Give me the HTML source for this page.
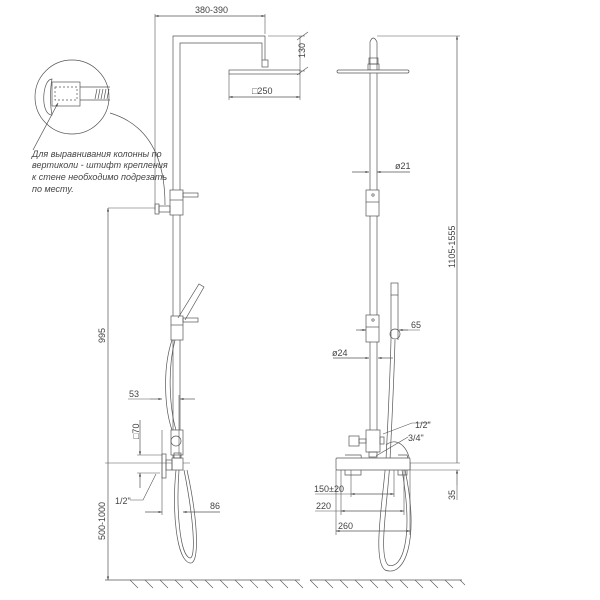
<!DOCTYPE html>
<html><head><meta charset="utf-8"><style>html,body{margin:0;padding:0;background:#fff}svg{display:block}text{font-family:"Liberation Sans","DejaVu Sans",sans-serif;font-size:9px;fill:#444}</style></head><body>
<svg width="600" height="600" viewBox="0 0 600 600" xmlns="http://www.w3.org/2000/svg">
<defs><marker id="a" viewBox="0 0 10 10" refX="10" refY="5" markerWidth="7" markerHeight="5" orient="auto-start-reverse"><path d="M0,2L10,5L0,8z" fill="#444"/></marker></defs>
<g stroke="#555" stroke-width="0.7" fill="none">
<path d="M173,460V36H265V60M180,460V43H262V60"/>
<rect x="262" y="60" width="6" height="7" fill="#fff"/>
<rect x="229" y="70" width="71" height="4" fill="#fff"/>
<path d="M155,14V210M265,14V34" stroke-width="0.6"/>
<line x1="155" y1="16" x2="265" y2="16" marker-start="url(#a)" marker-end="url(#a)"/>
<path d="M268,36H305M300,71H305M300,36V71M297,40L308,32M297,75L308,67" stroke-width="0.6"/>
<path d="M229,74V100M300,74V100" stroke-width="0.6"/>
<line x1="229" y1="97" x2="300" y2="97" marker-start="url(#a)" marker-end="url(#a)"/>
<circle cx="72" cy="97" r="37"/>
<path d="M52,79C42,79 40,115 52,115C50,105 50,89 52,79Z"/>
<rect x="52" y="82" width="28" height="24"/>
<rect x="55" y="87" width="22" height="13" stroke-dasharray="2,2"/>
<path d="M80,87H110M80,100H110M97,89L95,99M100,89L98,99M103,89L101,99M106,89L104,99M109,89L107,99"/>
<path d="M110,113C150,125 165,160 165,205"/>
<line x1="33" y1="150" x2="58" y2="103" marker-end="url(#a)"/>
<rect x="170" y="190" width="13" height="25" fill="#fff"/>
<path d="M170,200H183"/>
<rect x="183" y="193" width="15" height="4"/>
<rect x="155" y="204" width="4" height="10"/>
<rect x="159" y="206" width="11" height="6"/>
<path d="M108,208H155" stroke-width="0.6"/>
<line x1="108" y1="463" x2="108" y2="208" marker-end="url(#a)"/>
<line x1="108" y1="463" x2="108" y2="580" marker-end="url(#a)"/>
<path d="M105,463H190" stroke-width="0.6"/>
<rect x="171" y="316" width="12" height="24" fill="#fff"/>
<path d="M171,325H183"/>
<rect x="183" y="318" width="15" height="4"/>
<path d="M178,318L199,284L204,287L185,320"/>
<path d="M172,340C162,370 165,410 172,430M175,340C167,370 170,410 176,430"/>
<path d="M176,470C172,510 176,560 190,563C200,565 198,520 187,470M179,470C176,510 180,556 190,558C196,558 194,520 184,470"/>
<rect x="171" y="430" width="12" height="25" fill="#fff"/>
<circle cx="176" cy="441" r="5"/>
<rect x="172" y="458" width="11" height="12" fill="#fff"/>
<rect x="174" y="453" width="7" height="5"/>
<rect x="162" y="454" width="4" height="24"/>
<rect x="166" y="460" width="6" height="10"/>
<path d="M162,430V515M179,395V455" stroke-width="0.6"/>
<line x1="150" y1="399" x2="162" y2="399" marker-end="url(#a)"/>
<line x1="195" y1="399" x2="180" y2="399" marker-end="url(#a)"/>
<path d="M128,399H150" stroke-width="0.6"/>
<line x1="140" y1="420" x2="140" y2="455" marker-end="url(#a)"/>
<line x1="140" y1="488" x2="140" y2="473" marker-end="url(#a)"/>
<path d="M137,455H162M137,473H160" stroke-width="0.6"/>
<path d="M130,500H143L156,474" stroke-width="0.6"/>
<line x1="145" y1="512" x2="162" y2="512" marker-end="url(#a)"/>
<line x1="220" y1="512" x2="183" y2="512" marker-end="url(#a)"/>
<path d="M105,580H300M310,580H462"/>
<path d="M130,580l8,8M145,580l8,8M160,580l8,8M175,580l8,8M190,580l8,8M205,580l8,8M220,580l8,8M235,580l8,8M250,580l8,8M265,580l8,8M280,580l8,8M295,580l8,8M310,580l8,8M325,580l8,8M340,580l8,8M355,580l8,8M370,580l8,8M385,580l8,8M400,580l8,8M415,580l8,8M430,580l8,8M445,580l8,8M460,580l5,5" stroke-width="0.6"/>
<path d="M370,430V42Q373,34 377,42V430"/>
<rect x="369" y="58" width="9" height="6"/>
<rect x="368" y="64" width="11" height="6"/>
<rect x="337" y="70" width="72" height="3" rx="1.5" fill="#fff"/>
<path d="M377,36H460" stroke-width="0.6"/>
<line x1="457" y1="463" x2="457" y2="36" marker-end="url(#a)"/>
<line x1="352" y1="172" x2="369" y2="172" marker-end="url(#a)"/>
<line x1="410" y1="172" x2="377" y2="172" marker-end="url(#a)"/>
<rect x="366" y="190" width="13" height="26" fill="#fff"/>
<path d="M366,202H379"/><circle cx="373" cy="195" r="1.2"/>
<rect x="366" y="315" width="13" height="27" fill="#fff"/>
<path d="M366,327H379"/><circle cx="373" cy="320" r="1.2"/>
<rect x="391" y="283" width="7" height="12"/>
<path d="M391,295V340M398,295V340"/>
<circle cx="395" cy="334" r="5"/>
<path d="M360,330H366M400,330H420" stroke-width="0.6"/>
<line x1="356" y1="330" x2="366" y2="330" marker-end="url(#a)"/>
<line x1="408" y1="330" x2="399" y2="330" marker-end="url(#a)"/>
<line x1="333" y1="358" x2="369" y2="358" marker-end="url(#a)"/>
<line x1="393" y1="358" x2="378" y2="358" marker-end="url(#a)"/>
<path d="M391,340C390,380 388,420 386,460C383,500 372,560 385,570C405,578 420,540 405,470M395,340C394,380 392,420 390,460C388,500 378,555 388,565C402,570 414,540 402,470"/>
<path d="M386,445C398,435 412,450 410,470" />
<rect x="366" y="430" width="14" height="22" fill="#fff"/>
<rect x="359" y="439" width="7" height="4"/>
<rect x="349" y="436" width="10" height="10"/>
<rect x="380" y="437" width="4" height="7"/>
<rect x="369" y="452" width="8" height="5"/>
<path d="M345,455H361L362,465M398,455H407L410,465"/>
<rect x="336" y="458" width="74" height="12" rx="1" fill="#fff"/>
<path d="M345,470V475H361V470M398,470V475H407V470"/>
<path d="M383,434L412,423H430M376,456L408,437" stroke-width="0.6"/>
<path d="M410,463H460M410,470H460" stroke-width="0.6"/>
<line x1="457" y1="485" x2="457" y2="470" marker-end="url(#a)"/>
<path d="M457,485V500" stroke-width="0.6"/>
<path d="M336,470V535M341,470V515M351,470V497M394,470V497M404,470V515M410,470V535" stroke-width="0.6"/>
<path d="M315,494H351M315,511H341" stroke-width="0.6"/>
<line x1="351" y1="494" x2="394" y2="494" marker-start="url(#a)" marker-end="url(#a)"/>
<line x1="341" y1="511" x2="404" y2="511" marker-start="url(#a)" marker-end="url(#a)"/>
<line x1="336" y1="531" x2="410" y2="531" marker-start="url(#a)" marker-end="url(#a)"/>
</g>
<g>
<text x="195" y="13">380-390</text>
<text x="305" y="58" transform="rotate(-90 305 58)">130</text>
<text x="252" y="94">□250</text>
<text x="32" y="157" font-style="italic" font-size="8.5">Для выравнивания колонны по</text>
<text x="32" y="168" font-style="italic" font-size="8.5">вертиколи - штифт крепления</text>
<text x="32" y="180" font-style="italic" font-size="8.5">к стене необходимо подрезать</text>
<text x="32" y="192" font-style="italic" font-size="8.5">по месту.</text>
<text x="105" y="343" transform="rotate(-90 105 343)">995</text>
<text x="105" y="540" transform="rotate(-90 105 540)">500-1000</text>
<text x="129" y="397">53</text>
<text x="139" y="439" transform="rotate(-90 139 439)">□70</text>
<text x="115" y="504">1/2"</text>
<text x="210" y="509">86</text>
<text x="395" y="169">ø21</text>
<text x="455" y="268" transform="rotate(-90 455 268)">1105-1555</text>
<text x="411" y="328">65</text>
<text x="332" y="356">ø24</text>
<text x="415" y="428">1/2"</text>
<text x="408" y="441">3/4"</text>
<text x="455" y="500" transform="rotate(-90 455 500)">35</text>
<text x="314" y="492">150±20</text>
<text x="316" y="509">220</text>
<text x="338" y="529">260</text>
</g>
</svg>
</body></html>
